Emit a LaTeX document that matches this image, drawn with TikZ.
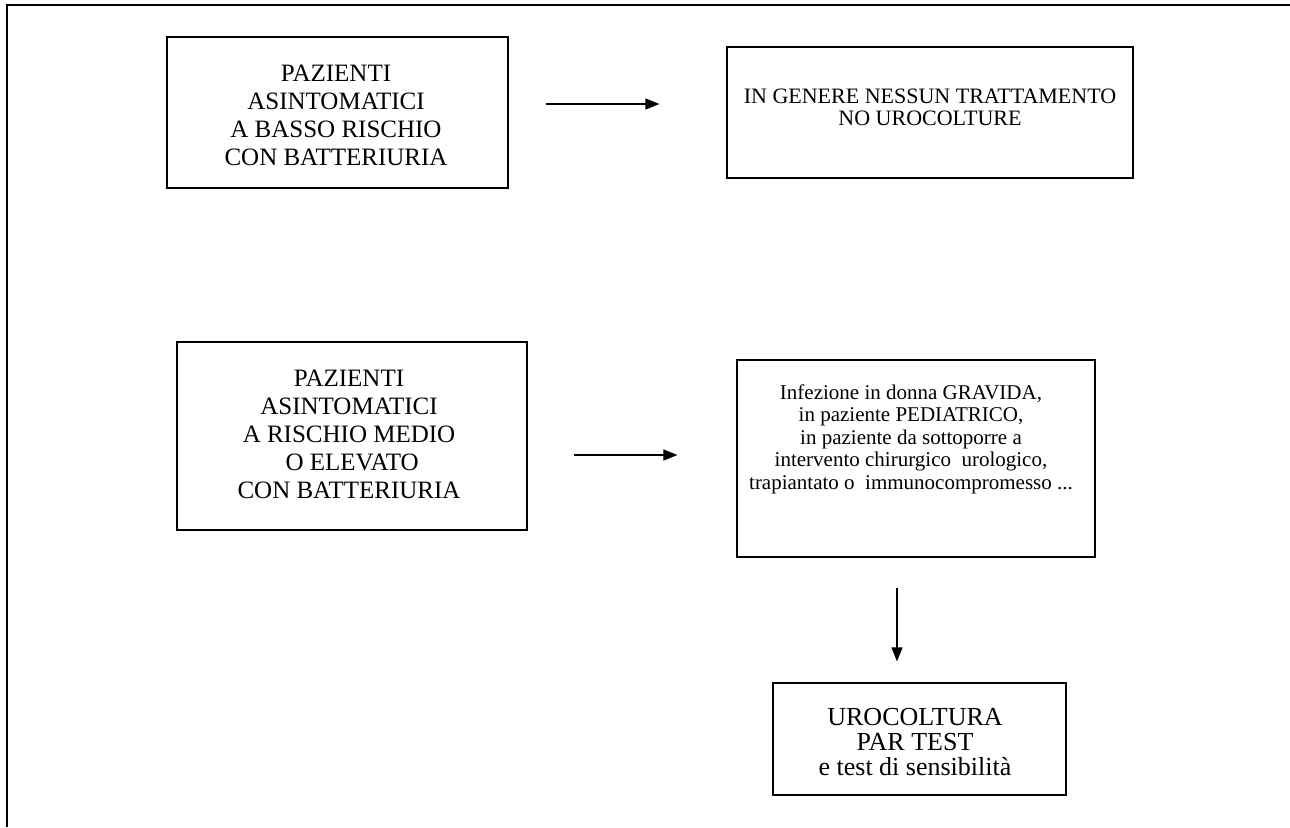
\documentclass[tikz,border=0pt]{standalone}
\usepackage{fontspec}
\setmainfont{Liberation Serif}
\usetikzlibrary{arrows.meta}
\usetikzlibrary{positioning}

\tikzset{
  box/.style={draw, line width=0.6pt, inner sep=0pt},
  txt/.style={align=center, inner sep=0pt},
  arr/.style={-{Triangle[length=7pt,width=5.5pt]}, line width=0.6pt}
}

\begin{document}
\begin{tikzpicture}[x=0.5pt, y=-0.5pt]
    \useasboundingbox (0,0) rectangle (1290,827);
    \draw[line width=1pt] (7,827) -- (7,5) -- (1290,5);
    % boxes
    \node[box, minimum width=170.5pt, minimum height=75.5pt] (b1) at (337.5,112.5) {};
    \node[box, minimum width=203pt, minimum height=65.5pt] (b2) at (930,112.5) {};
    \node[box, minimum width=175pt, minimum height=94pt] (b3) at (352,436) {};
    \node[box, minimum width=179pt, minimum height=98.5pt] (b4) at (916,458.5) {};
    \node[box, minimum width=146.5pt, minimum height=56pt] (b5) at (919.5,739) {};
    % texts
    \node[txt, font=\fontsize{12.5}{14}\selectfont] (t1) at (336,115)
        {PAZIENTI\\ASINTOMATICI\\A BASSO RISCHIO\\CON BATTERIURIA};
    \node[txt, font=\fontsize{11}{11}\selectfont] (t2) at (930,107)
        {IN GENERE NESSUN TRATTAMENTO\\NO UROCOLTURE};
    \node[txt, font=\fontsize{12.5}{14}\selectfont] (t3) at (349,434)
        {PAZIENTI\\ASINTOMATICI\\A RISCHIO MEDIO\\\ O ELEVATO\\CON BATTERIURIA};
    \node[txt, font=\fontsize{10.5}{11.25}\selectfont] (t4) at (911,439)
        {Infezione in donna GRAVIDA,\\in paziente PEDIATRICO,\\in paziente da sottoporre a\\intervento chirurgico\ \ urologico,\\trapiantato o\ \ immunocompromesso ...};
    \node[txt, font=\fontsize{13}{12.5}\selectfont] (t5) at (915,742)
        {UROCOLTURA\\PAR TEST\\e test di sensibilità};
    % arrows
    \draw[arr] ([xshift=18.5pt, yshift=4.25pt]b1.east) -- ([xshift=-33.5pt, yshift=4.25pt]b2.west);
    \draw[arr] ([xshift=23pt, yshift=-9.5pt]b3.east) -- ([xshift=-29.5pt, yshift=1.75pt]b4.west);
    \draw[arr] ([xshift=-9.5pt, yshift=-15pt]b4.south) -- ([xshift=-11.25pt, yshift=10.5pt]b5.north);
\end{tikzpicture}
\end{document}
